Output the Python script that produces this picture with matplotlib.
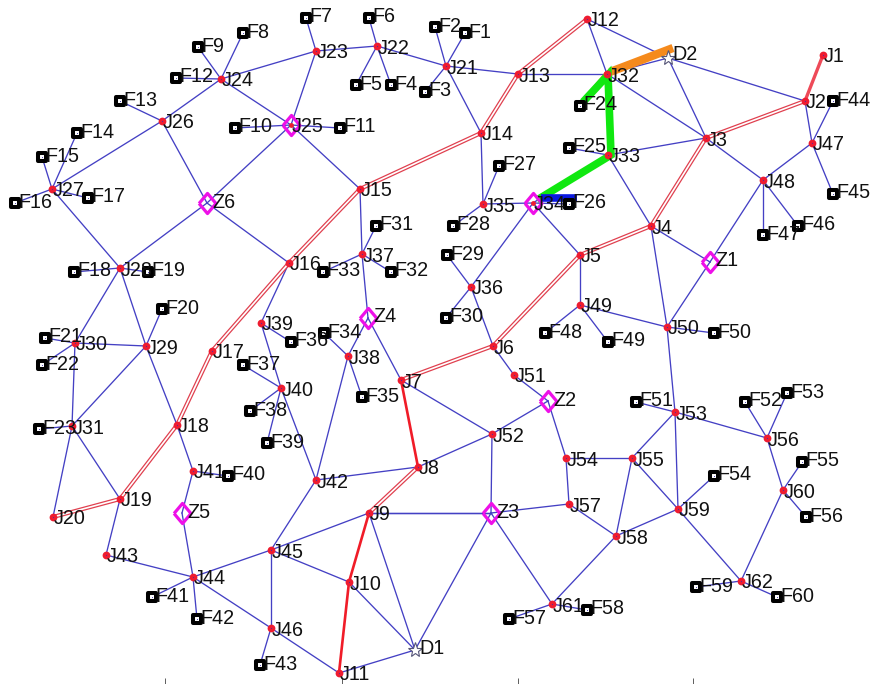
import matplotlib
matplotlib.use("Agg")
import matplotlib.pyplot as plt
from matplotlib.markers import MarkerStyle

plt.rcParams['font.family'] = ['Liberation Sans', 'DejaVu Sans']

## Nodes (image pixels)
j_names = ["J1","J2","J3","J4","J5","J6","J7","J8","J9","J10","J11","J12","J13","J14","J15","J16","J17","J18","J19","J20",
           "J21","J22","J23","J24","J26","J27","J28","J29","J30","J31","J32","J33","J35","J36","J37","J38","J39","J40",
           "J41","J42","J43","J44","J45","J46","J47","J48","J49","J50","J51","J52","J53","J54","J55","J56","J57","J58",
           "J59","J60","J61","J62"]
j_x = [823,805,706,651,580,493,401,418,369,349,339,587,518,481,360,289,212,177,120,53,
       446,377,316,221,162,52,120,146,75,72,607,608,483,471,362,348,261,281,
       193,316,106,193,271,271,812,763,580,667,514,492,675,566,632,767,569,616,
       678,783,552,741]
j_y = [55,101,138,226,255,346,380,467,513,582,673,19,74,133,189,263,351,425,499,517,
       66,46,51,79,121,189,268,346,343,426,74,155,204,287,254,356,323,388,
       471,480,555,577,550,628,143,180,305,327,375,434,412,458,458,438,504,536,
       509,490,604,581]

z_names = ["Z1","Z2","Z3","Z4","Z5","Z6","J25","J34"]
z_x = [710,548,491,368,182,207,291,533]
z_y = [262,401,513,318,513,203,125,203]

f_names = ["F%d" % i for i in range(1,61)]
f_x = [465,435,425,391,356,369,306,243,198,235,340,176,120,77,42,15,88,74,148,162,
       45,42,39,580,569,569,499,453,447,446,376,391,323,324,362,291,243,250,267,228,
       152,197,260,833,833,798,763,545,608,714,636,745,787,714,802,806,509,587,696,777]
f_y = [33,27,92,85,85,18,18,33,47,128,128,78,101,133,157,203,198,272,272,309,
       338,365,429,106,148,204,166,226,255,318,226,272,272,333,397,342,365,411,443,476,
       597,619,665,101,194,226,235,333,342,333,402,402,393,476,462,517,619,610,587,597]

d_names = ["D1","D2"]
d_x = [415,668]
d_y = [650,58]

blue_edges = ["J12-J32","J12-D2","J13-J32","D2-J32","D2-J3","D2-J2","J32-J33","J32-J3","J32-F24","J33-F25","J33-J3",
    "J33-J34","J33-J4","J34-J35","J34-F26","J34-J36","J34-J5","J35-J14","J35-F27","J35-F28","J36-F29","J36-F30","J36-J6",
    "J3-J48","J2-J47","J47-F44","J47-F45","J47-J48","J48-F46","J48-F47","J48-Z1","Z1-J4","Z1-J50","J4-J50","J50-F50",
    "J50-J49","J49-J5","J49-F48","J49-F49","J50-J53","J6-J51","J51-Z2","Z2-J52","Z2-J54","J52-J8","J52-J7","J52-Z3",
    "Z3-J9","Z3-J57","Z3-J61","Z3-D1","J54-J55","J54-J57","J55-J53","J55-J59","J55-J58","J53-J59","J53-F51","J53-J56",
    "J56-F52","J56-F53","J56-J60","J60-F55","J60-F56","J60-J62","J62-F59","J62-F60","J62-J59","J59-F54","J59-J58",
    "J58-J57","J58-J61","J61-F57","J61-F58","J14-J21","J21-J13","J21-F1","J21-F2","J21-F3","J21-J22","J22-F6","J22-F4",
    "J22-F5","J22-J23","J23-F7","J23-J24","J23-J25","J24-F8","J24-F9","J24-F12","J24-J25","J24-J26","J26-F13","J26-Z6",
    "J26-J27","J27-F14","J27-F15","J27-F16","J27-F17","J27-J28","J25-F10","J25-F11","J25-J15","J25-Z6","Z6-J28","Z6-J16",
    "J15-J37","J37-F31","J37-F32","J37-F33","J37-Z4","Z4-J7","Z4-J38","J38-F34","J38-F35","J38-J42","J16-J39","J39-F36",
    "J39-J40","J40-F37","J40-F38","J40-F39","J40-J42","J42-J8","J42-J45","J45-J9","J45-J44","J45-J10","J45-J46","J10-D1",
    "J9-D1","J11-D1","J46-J11","J46-F43","J46-J44","J44-F41","J44-F42","J44-J43","J44-Z5","Z5-J41","J41-F40","J41-J18",
    "J43-J19","J28-F18","J28-F19","J28-J29","J28-J30","J29-F20","J29-J30","J29-J18","J29-J31","J30-F21","J30-F22",
    "J30-J31","J31-F23","J31-J20","J31-J19","J9-Z3"]
double_edges = ["J12-J13","J13-J14","J14-J15","J15-J16","J16-J17","J17-J18","J18-J19","J19-J20",
                "J2-J3","J3-J4","J4-J5","J5-J6","J6-J7","J8-J9"]
red_edges = ["J7-J8","J9-J10","J10-J11"]
pink_edges = ["J1-J2"]

pos = {}
for names, xs, ys in [(j_names,j_x,j_y),(z_names,z_x,z_y),(f_names,f_x,f_y),(d_names,d_x,d_y)]:
    for n, x, y in zip(names, xs, ys):
        pos[n] = (x, y)

def seg(edge):
    a, b = edge.split("-")
    return [pos[a][0], pos[b][0]], [pos[a][1], pos[b][1]]

fig = plt.figure(figsize=(8.72, 6.84), dpi=100)
ax = fig.add_axes([0, 0, 1, 1])
ax.set_xlim(0, 872)
ax.set_ylim(684, 0)
for s in ax.spines.values():
    s.set_visible(False)
ax.set_xticks([165, 342, 518, 693])
ax.set_xticklabels([])
ax.set_yticks([])
ax.tick_params(axis="x", direction="in", length=4, width=0.6, color="#444444", pad=0)

for e in blue_edges:
    ax.plot(*seg(e), color="#4440c4", lw=0.95, zorder=2)
for e in double_edges:
    xs, ys = seg(e)
    ax.plot(xs, ys, color="#e0404f", lw=3.0, zorder=3, solid_capstyle="butt")
    ax.plot(xs, ys, color="white", lw=1.2, zorder=3.1, solid_capstyle="butt")
for e in red_edges:
    ax.plot(*seg(e), color="#f01c28", lw=1.9, zorder=3)
for e in pink_edges:
    ax.plot(*seg(e), color="#ee4a58", lw=2.4, zorder=3)

# highlighted routes, drawn just beside the lines they follow
ax.plot(*seg("J32-F24"), color="#f58a1c", lw=4, zorder=4, solid_capstyle="butt")
ax.plot([pos["J32"][0]+3, pos["D2"][0]+5], [pos["J32"][1]-2, pos["D2"][1]-10], color="#f58a1c", lw=6, zorder=4, solid_capstyle="butt")
ax.plot([pos["F24"][0]+3, pos["J32"][0]+1, pos["J33"][0]+3, pos["J34"][0]+4],
        [pos["F24"][1]-4, pos["J32"][1]+1, pos["J33"][1], pos["J34"][1]-3],
        color="#10e810", lw=5.5, zorder=4.2, solid_joinstyle="miter", solid_capstyle="butt")
ax.plot([pos["J34"][0]+8, pos["F26"][0]+8], [pos["J34"][1]-5, pos["F26"][1]-6], color="#0a18e0", lw=5.5, zorder=4.3, solid_capstyle="butt")

square = MarkerStyle("s", joinstyle="round")
tall_diamond = [(-0.84, 0), (0, 1), (0.84, 0), (0, -1), (-0.84, 0)]
ax.plot(j_x, j_y, "o", color="#ee1c30", ms=5.6, mew=0, zorder=5)
ax.plot(j_x, j_y, ".", color="#3a2fb0", ms=1.5, mew=0, zorder=5.1)
ax.plot(f_x, f_y, ls="", marker=square, mfc="white", mec="black", ms=6.0, mew=2.9, zorder=5)
ax.plot(f_x, f_y, ".", color="#3a2fb0", ms=1.5, mew=0, zorder=5.1)
ax.plot(z_x, z_y, ls="", marker=tall_diamond, mfc="none", mec="#ee10e8", ms=14.5, mew=2.3, zorder=5)
ax.plot(z_x[6:], z_y[6:], "o", color="#ee1c30", ms=3.5, mew=0, zorder=5.1)
ax.plot(d_x, d_y, ls="", marker="*", mfc="white", mec="#555577", ms=11, mew=0.8, zorder=5)

fs = 14.2
tc = "#111111"
for n, x, y in zip(j_names, j_x, j_y):
    ax.text(x+1, y+2, n, fontsize=fs, color=tc, va="center", ha="left", zorder=6)
for n, x, y in zip(f_names, f_x, f_y):
    ax.text(x+3, y-1, n, fontsize=fs, color=tc, va="center", ha="left", zorder=6)
for n, x, y in zip(z_names, z_x, z_y):
    ax.text(x+5 if n[0] == "Z" else x+1, y-1 if n[0] == "Z" else y+1, n, fontsize=fs, color=tc, va="center", ha="left", zorder=6)
for n, x, y in zip(d_names, d_x, d_y):
    ax.text(x+4, y-1 if n == "D1" else y-4, n, fontsize=fs, color=tc, va="center", ha="left", zorder=6)

fig.savefig("out.png", dpi=100)
